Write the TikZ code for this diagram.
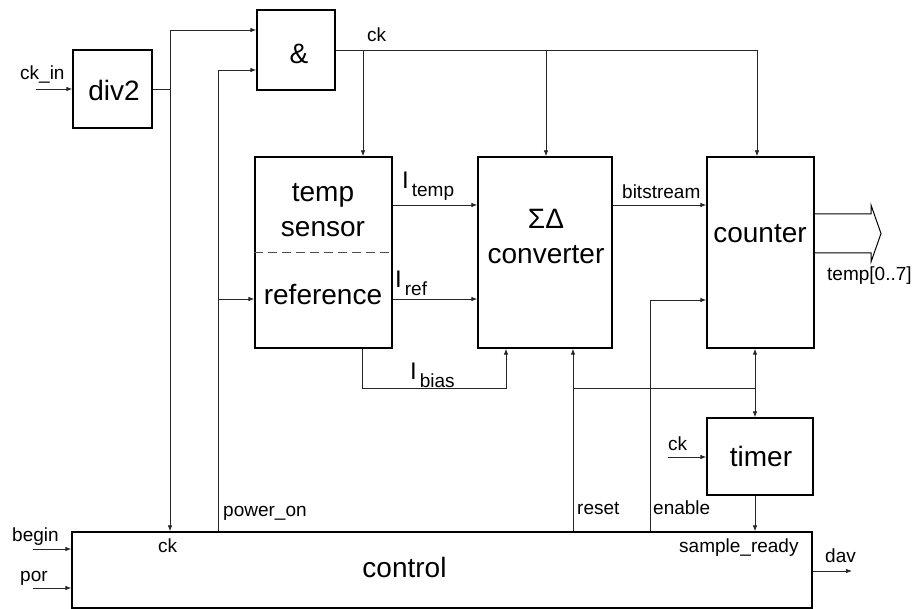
\documentclass[tikz,border=0pt]{standalone}
\usepackage{fontspec}
\setmainfont{Liberation Sans}
\usetikzlibrary{arrows.meta}
\begin{document}
\begin{tikzpicture}[x=1pt,y=-1pt,
  blk/.style={draw, line width=1.3pt, minimum width=#1, inner sep=0pt},
  wire/.style={line width=0.8pt, black!85},
  arr/.style={wire, -{Latex[length=6pt,width=4.5pt]}},
  bigtext/.style={font=\fontsize{28}{30}\selectfont, inner sep=0pt},
  lbl/.style={font=\fontsize{19}{21}\selectfont, inner sep=0pt, anchor=base west},
  cur/.style={font=\fontsize{24}{26}\selectfont, inner sep=0pt, anchor=base west}]
\useasboundingbox (0,0) rectangle (914,609);

% blocks
\node[blk=79pt, minimum height=78pt] (div2) at (112.5,89) {};
\node[blk=78pt, minimum height=80pt] (and) at (296,50) {};
\node[blk=137pt, minimum height=191pt] (ts) at (323.5,252.5) {};
\node[blk=134pt, minimum height=191pt] (conv) at (545,252.5) {};
\node[blk=107pt, minimum height=191pt] (cnt) at (760.5,252.5) {};
\node[blk=106pt, minimum height=77pt] (timer) at (760,456.5) {};
\node[blk=740pt, minimum height=76pt] (ctrl) at (442,570) {};

% block texts
\node[bigtext, anchor=base] (tdiv) at (114,101) {div2};
\node[bigtext] (tand) at (299,54) {\&};
\node[bigtext, anchor=base] (ttemp) at (323,202) {temp};
\node[bigtext, anchor=base] (tsens) at (323,237) {sensor};
\node[bigtext, anchor=base] (tref) at (323,305) {reference};
\node[bigtext, anchor=base] (tsd) at (546,229) {ΣΔ};
\node[bigtext, anchor=base] (tconv) at (546,264) {converter};
\node[bigtext, anchor=base] (tcnt) at (760,243) {counter};
\node[bigtext, anchor=base] (ttim) at (761,467) {timer};
\node[bigtext, anchor=base] (tctl) at (404.5,578) {control};

% split between sensor and reference
\draw[line width=0.8pt, black!70, dash pattern=on 9pt off 5pt] (ts.west |- 0,252) -- (ts.east |- 0,252);

% helper coordinates
\coordinate (ckin) at (36,89);
\coordinate (jdiv) at (170,89);
\coordinate (xpw) at (218,0);
\coordinate (yref) at (0,299);
\coordinate (ytmp) at (0,205);
\coordinate (ckend) at (757,50);
\coordinate (xt1) at (363,0);
\coordinate (xt2) at (546,0);
\coordinate (xb1) at (362,0);
\coordinate (xb2) at (506,0);
\coordinate (yb) at (0,388);
\coordinate (xr) at (573,0);
\coordinate (xen) at (650,0);
\coordinate (xc) at (755,0);
\coordinate (ckt) at (668,457);
\coordinate (beg) at (33,549);
\coordinate (por) at (33,588);
\coordinate (dav) at (852,571);

% clock path
\draw[arr] (ckin) -- (div2.west |- ckin);
\draw[wire] (div2.east |- jdiv) -- (jdiv);
\draw[arr] (jdiv) |- ([yshift=20pt]and.west);
\draw[arr] (jdiv) -- (jdiv |- ctrl.north);
\draw[wire] (and.east) -- (ckend);
\draw[arr] (xt1 |- ckend) -- (ts.north -| xt1);
\draw[arr] (xt2 |- ckend) -- (conv.north -| xt2);
\draw[arr] (ckend) -- (cnt.north -| ckend);

% power_on
\draw[arr] (ctrl.north -| xpw) |- ([yshift=-20pt]and.west);
\draw[arr] (xpw |- yref) -- (ts.west |- yref);

% currents
\draw[arr] (ts.east |- ytmp) -- (conv.west |- ytmp);
\draw[arr] (ts.east |- yref) -- (conv.west |- yref);
\draw[arr] (ts.south -| xb1) |- (yb -| xb2) -- (conv.south -| xb2);

% bitstream
\draw[arr] (conv.east |- ytmp) -- (cnt.west |- ytmp);

% output bus
\draw[line width=1pt, line join=miter] (cnt.east |- 0,214) -- (871,214) -- (871,205) -- (881,233.5) -- (871,262) -- (871,253) -- (cnt.east |- 0,253);

% reset and enable
\draw[arr] (ctrl.north -| xr) -- (conv.south -| xr);
\draw[wire] (xr |- yb) -- (xc |- yb);
\draw[arr] (xc |- yb) -- (cnt.south -| xc);
\draw[arr] (xc |- yb) -- (timer.north -| xc);
\draw[arr] (ctrl.north -| xen) |- (cnt.west |- 0,300);

% timer
\draw[arr] (ckt) -- (timer.west |- ckt);
\draw[arr] (timer.south -| xc) -- (ctrl.north -| xc);

% control I/O
\draw[arr] (beg) -- (ctrl.west |- beg);
\draw[arr] (por) -- (ctrl.west |- por);
\draw[arr] (ctrl.east |- dav) -- (dav);

% labels
\node[lbl] (lckin) at (20,80) {ck\_in};
\node[lbl] (lck) at (367,42) {ck};
\node[cur] (litemp) at (402,189) {I\hspace{3pt}\raisebox{-8pt}{\fontsize{19}{21}\selectfont temp}};
\node[cur] (liref) at (395,288) {I\hspace{3pt}\raisebox{-8pt}{\fontsize{19}{21}\selectfont ref}};
\node[cur] (libias) at (410,380) {I\hspace{3pt}\raisebox{-8pt}{\fontsize{19}{21}\selectfont bias}};
\node[lbl] (lbit) at (622,199) {bitstream};
\node[lbl] (lout) at (827,281) {temp[0..7]};
\node[lbl] (lckt) at (668,451) {ck};
\node[lbl] (lbeg) at (12,542) {begin};
\node[lbl] (lpor) at (20,582) {por};
\node[lbl] (lckc) at (158,553) {ck};
\node[lbl] (lpw) at (223,517) {power\_on};
\node[lbl] (lrst) at (577,515) {reset};
\node[lbl] (len) at (653,515) {enable};
\node[lbl] (lsr) at (679,553) {sample\_ready};
\node[lbl] (ldav) at (825,563) {dav};
\end{tikzpicture}
\end{document}
